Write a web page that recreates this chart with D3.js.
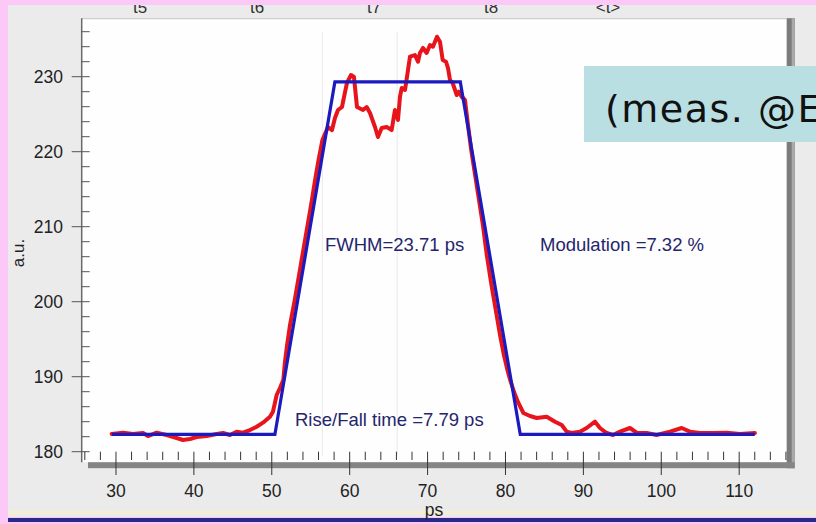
<!DOCTYPE html>
<html>
<head>
<meta charset="utf-8">
<script src="https://cdn.jsdelivr.net/npm/d3@7"></script>
<style>
  html, body { margin: 0; padding: 0; background: #fbc8f7; }
  svg { display: block; }
</style>
</head>
<body>
<svg id="chart" width="816" height="524"></svg>
<script>
// Measured pulse (time in ps, amplitude in a.u.)
const timePs = [
  29.45, 30.90, 32.18, 33.47, 34.11, 35.22, 36.51, 37.79, 38.60, 39.50,
  40.36, 41.64, 42.93, 43.74, 44.63, 45.49, 46.30, 47.20, 48.06, 48.87,
  49.77, 50.15, 50.63, 51.05, 51.48, 51.69, 51.95, 52.34, 52.95, 53.50,
  54.05, 54.60, 55.15, 55.60, 56.00, 56.30, 56.50, 57.21, 57.73, 58.11,
  58.50, 59.01, 59.27, 59.65, 60.17, 60.55, 60.94, 61.71, 62.18, 62.61,
  63.25, 63.63, 64.11, 64.75, 65.39, 65.81, 66.20, 66.46, 66.68, 67.10,
  67.30, 67.74, 68.38, 68.77, 69.02, 69.41, 69.88, 70.31, 70.69, 71.21,
  71.59, 71.94, 72.36, 72.62, 72.88, 73.22, 73.74, 74.03, 74.38, 74.80,
  75.19, 75.60, 76.10, 76.60, 77.10, 77.60, 78.20, 78.75, 79.30, 79.80,
  80.25, 80.60, 81.10, 81.60, 82.30, 83.15, 84.01, 85.29, 86.36, 87.22,
  87.86, 88.50, 89.56, 90.42, 91.49, 92.13, 92.99, 93.80, 94.70, 95.98,
  96.84, 98.12, 99.40, 101.12, 102.62, 103.68, 104.97, 106.64, 108.40, 110.10,
  112.02
];
const signal = [
  182.36, 182.53, 182.36, 182.49, 182.09, 182.53, 182.23, 181.83, 181.56, 181.69,
  181.96, 182.09, 182.36, 182.49, 182.23, 182.67, 182.53, 182.89, 183.33, 183.87,
  184.67, 185.33, 187.56, 188.49, 189.56, 191.96, 194.09, 196.89, 200.23, 203.56,
  206.89, 210.23, 213.56, 216.49, 218.89, 220.49, 221.56, 223.29, 222.89, 224.49,
  225.56, 225.96, 227.29, 229.16, 230.23, 229.96, 225.96, 225.56, 225.96, 225.16,
  223.29, 221.96, 223.16, 223.29, 222.89, 225.56, 224.23, 227.33, 228.49, 228.23,
  229.56, 232.67, 232.89, 232.00, 233.16, 233.83, 233.16, 234.23, 234.00, 235.33,
  234.67, 232.23, 232.00, 231.16, 229.56, 229.16, 227.56, 228.00, 227.33, 226.89,
  223.56, 220.23, 216.89, 213.56, 210.23, 206.23, 202.23, 198.89, 195.56, 192.89,
  190.89, 189.56, 187.96, 186.63, 185.16, 184.76, 184.49, 184.67, 184.00, 183.56,
  182.67, 182.49, 182.67, 183.16, 184.00, 183.16, 182.49, 182.23, 182.67, 183.16,
  182.53, 182.49, 182.23, 182.67, 183.16, 182.67, 182.49, 182.49, 182.53, 182.36,
  182.49
];

// Trapezoid fit
const fitTime  = [29.5, 50.4, 58.1, 74.2, 81.9, 112.0];
const fitLevel = [182.3, 182.3, 229.3, 229.3, 182.3, 182.3];

// Axis ticks
const xMajorTicks = [30, 40, 50, 60, 70, 80, 90, 100, 110];
const yMajorTicks = [180, 190, 200, 210, 220, 230];
const cursorLabels = ["t5", "t6", "t7", "t8", "<t>"];
const cursorLines = [56.5, 66.1];

// Annotation texts
const fwhmText = "FWHM=23.71 ps";
const modText = "Modulation =7.32 %";
const riseText = "Rise/Fall time =7.79 ps";
const noteText = "(meas. @E";
const xTitle = "ps";
const yTitle = "a.u.";

const svg = d3.select("#chart");
const W = 816, H = 524;

const x = d3.scaleLinear().domain([25.6, 116.1]).range([81.7, 786.7]);
const y = d3.scaleLinear().domain([178.6, 237.8]).range([462.2, 18.2]);

const font = "'Liberation Sans', Arial, sans-serif";

// Page framing
svg.append("rect").attr("x", 0).attr("y", 0).attr("width", W).attr("height", H).attr("fill", "#fbc8f7");
svg.append("rect").attr("x", 8).attr("y", 0).attr("width", W - 8).attr("height", 517).attr("fill", "#ebebeb");
svg.append("rect").attr("x", 8).attr("y", 511).attr("width", W - 8).attr("height", 3).attr("fill", "#f3efcf");
svg.append("rect").attr("x", 8).attr("y", 518).attr("width", W - 8).attr("height", 4).attr("fill", "#2a2a86");

// Cursor labels along the top
const cursorScale = d3.scalePoint().domain(cursorLabels).range([140, 608]);
svg.append("g").selectAll("text").data(cursorLabels).join("text")
  .attr("x", d => cursorScale(d)).attr("y", 13)
  .attr("text-anchor", "middle")
  .attr("font-family", font).attr("font-size", 17).attr("fill", "#333")
  .text(d => d);
svg.append("rect").attr("x", 0).attr("y", 0).attr("width", W).attr("height", 5).attr("fill", "#fbc8f7");

// Plot area
const [x0, x1] = x.range();
const [y0, y1] = y.range();
svg.append("rect").attr("x", x0).attr("y", y1).attr("width", x1 - x0).attr("height", y0 - y1).attr("fill", "#fefefe");

// Frame shadow right and bottom
svg.append("rect").attr("x", x1).attr("y", y1).attr("width", 8).attr("height", y0 - y1 + 6).attr("fill", "#7b7b7b");
svg.append("rect").attr("x", x1 + 5).attr("y", y1).attr("width", 3).attr("height", y0 - y1 + 6).attr("fill", "#a9a9a9");
svg.append("rect").attr("x", 88).attr("y", y0).attr("width", x1 + 8 - 88).attr("height", 6).attr("fill", "#858585");
svg.append("line").attr("x1", x0).attr("x2", x1).attr("y1", y1 + 0.5).attr("y2", y1 + 0.5)
  .attr("stroke", "#c4c4c4").attr("stroke-width", 1);

// Faint cursor lines
svg.append("g").selectAll("line").data(cursorLines).join("line")
  .attr("x1", d => x(d)).attr("x2", d => x(d))
  .attr("y1", y(236)).attr("y2", y(179.5))
  .attr("stroke", "#ececec").attr("stroke-width", 1.2);

// Y axis
const yMinor = d3.range(180, 237, 2);
svg.append("line").attr("x1", x0).attr("x2", x0).attr("y1", y1).attr("y2", y0)
  .attr("stroke", "#6a6a6a").attr("stroke-width", 1.5);
svg.append("g").selectAll("line").data(yMinor).join("line")
  .attr("x1", d => yMajorTicks.includes(d) ? x0 - 10 : x0)
  .attr("x2", x0 + 8)
  .attr("y1", d => y(d)).attr("y2", d => y(d))
  .attr("stroke", "#555").attr("stroke-width", 1);
svg.append("g").selectAll("text").data(yMajorTicks).join("text")
  .attr("x", 63).attr("y", d => y(d) + 6)
  .attr("text-anchor", "end")
  .attr("font-family", font).attr("font-size", 17.5).attr("fill", "#222")
  .text(d => d);
svg.append("text")
  .attr("transform", `translate(24,253) rotate(-90)`)
  .attr("text-anchor", "middle")
  .attr("font-family", font).attr("font-size", 17).attr("fill", "#222")
  .text(yTitle);

// X axis
const xMinor = d3.range(26, 117, 2);
svg.append("g").selectAll("line").data(xMinor).join("line")
  .attr("x1", d => x(d)).attr("x2", d => x(d))
  .attr("y1", y(180))
  .attr("y2", d => xMajorTicks.includes(d) ? 475 : 460)
  .attr("stroke", "#333").attr("stroke-width", 1);
svg.append("g").selectAll("text").data(xMajorTicks).join("text")
  .attr("x", d => x(d)).attr("y", 497)
  .attr("text-anchor", "middle")
  .attr("font-family", font).attr("font-size", 17.5).attr("fill", "#222")
  .text(d => d);
svg.append("text")
  .attr("x", 434).attr("y", 516)
  .attr("text-anchor", "middle")
  .attr("font-family", font).attr("font-size", 17.5).attr("fill", "#222")
  .text(xTitle);

// Measured curve and fit
const line = d3.line().x(d => x(d[0])).y(d => y(d[1]));
svg.append("path")
  .datum(d3.zip(timePs, signal))
  .attr("d", line)
  .attr("fill", "none").attr("stroke", "#e8141c").attr("stroke-width", 4)
  .attr("stroke-linejoin", "round").attr("stroke-linecap", "round");
svg.append("path")
  .datum(d3.zip(fitTime, fitLevel))
  .attr("d", line)
  .attr("fill", "none").attr("stroke", "#1a1abe").attr("stroke-width", 3.2)
  .attr("stroke-linejoin", "miter");

// Annotations
const annColor = "#25256c";
svg.append("text").attr("x", x(56.83)).attr("y", y(207.6) + 6)
  .attr("font-family", font).attr("font-size", 18.5).attr("fill", annColor).text(fwhmText);
svg.append("text").attr("x", x(84.43)).attr("y", y(207.6) + 6)
  .attr("font-family", font).attr("font-size", 18.5).attr("fill", annColor).text(modText);
svg.append("text").attr("x", x(52.98)).attr("y", y(184.2) + 6)
  .attr("font-family", font).attr("font-size", 18.5).attr("fill", annColor).text(riseText);

// Note box
svg.append("rect").attr("x", 584).attr("y", 66).attr("width", 240).attr("height", 76).attr("fill", "#b9dfe3");
svg.append("text").attr("x", 605).attr("y", 122)
  .attr("font-family", "'Comic Sans MS', 'DejaVu Sans', sans-serif")
  .attr("font-size", 38).attr("letter-spacing", 1.5).attr("fill", "#111")
  .text(noteText);
</script>
</body>
</html>
